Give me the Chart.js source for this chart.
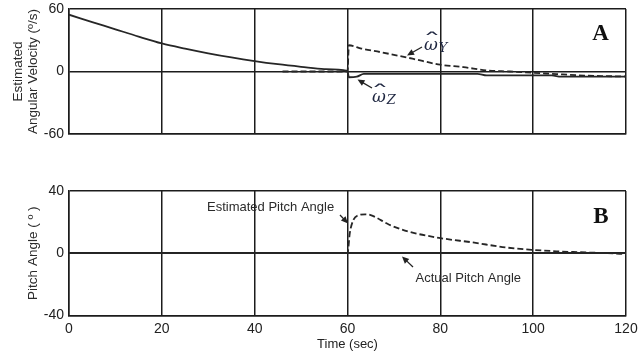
<!DOCTYPE html>
<html>
<head>
<meta charset="utf-8">
<script src="https://cdn.jsdelivr.net/npm/chart.js@4"></script>
<style>
  html, body { margin: 0; padding: 0; background: #fff; }
  #wrap { position: relative; width: 638px; height: 354px; }
  canvas { position: absolute; left: 0; }
  #cA { top: 0; }
  #cB { top: 150px; }
</style>
</head>
<body>
<div id="wrap">
  <canvas id="cA" width="638" height="150"></canvas>
  <canvas id="cB" width="638" height="204"></canvas>
</div>
<script>
// Panel A: estimated angular velocity (deg/s)
const omegaZTime = [0, 5, 10, 15, 20, 25, 30, 35, 40, 45, 50, 55, 60, 60.3, 62, 63.5, 88, 90, 104, 106, 120];
const omegaZVals = [54.5, 47.5, 40.5, 33.5, 27, 22, 17.5, 13.5, 10, 7, 4.5, 2.3, 0.6, -5.5, -5, -2.3, -2.2, -3.8, -3.8, -5, -5];
const omegaYTime = [46, 60, 60.3, 63, 67, 70, 74, 80, 85, 90, 95, 100, 105, 111, 115, 120];
const omegaYVals = [0, 0, 25.2, 22, 18.7, 16, 12.3, 6.5, 4.2, 1, 0, -1.2, -2.5, -3.9, -4.4, -4.8];

// Panel B: pitch angle (deg)
const pitchEstTime = [46, 60, 60.5, 61.3, 62.5, 63.8, 65, 69, 73, 80, 87, 94, 100, 105, 110, 116, 120];
const pitchEstVals = [0, 0, 13, 21.5, 24.5, 25, 24.5, 18.3, 14, 9.7, 6.9, 3.7, 2.1, 1.2, 0.6, 0, -0.6];
const pitchActTime = [0, 60, 120];
const pitchActVals = [0, 0, 0];

// Axis ticks
const timeTicks = [0, 20, 40, 60, 80, 100, 120];
const velTicks = [-60, 0, 60];
const pitchTicks = [-40, 0, 40];

const INK = '#1c1c1c';
const TEXT = '#222';
const SANS = "'Liberation Sans', Arial, sans-serif";
const SERIF = "'Liberation Serif', 'Times New Roman', serif";

const pts = (xs, ys) => xs.map((x, i) => ({ x, y: ys[i] }));

function lineSet(label, xs, ys, dashed) {
  return {
    label,
    data: pts(xs, ys),
    borderColor: '#262626',
    borderWidth: 1.8,
    borderDash: dashed ? [6, 3] : [],
    pointRadius: 0,
    fill: false,
    cubicInterpolationMode: 'monotone'
  };
}

function gridOpts() {
  return { color: INK, lineWidth: 1.5, drawTicks: false };
}

function arrow(ctx, x0, y0, x1, y1) {
  const a = Math.atan2(y1 - y0, x1 - x0);
  const h = 7, w = 3.2;
  ctx.save();
  ctx.strokeStyle = '#222';
  ctx.fillStyle = '#222';
  ctx.lineWidth = 1.3;
  ctx.beginPath();
  ctx.moveTo(x0, y0);
  ctx.lineTo(x1 - h * 0.8 * Math.cos(a), y1 - h * 0.8 * Math.sin(a));
  ctx.stroke();
  ctx.beginPath();
  ctx.moveTo(x1, y1);
  ctx.lineTo(x1 - h * Math.cos(a) + w * Math.sin(a), y1 - h * Math.sin(a) - w * Math.cos(a));
  ctx.lineTo(x1 - h * Math.cos(a) - w * Math.sin(a), y1 - h * Math.sin(a) + w * Math.cos(a));
  ctx.closePath();
  ctx.fill();
  ctx.restore();
}

// omega with a wide hat and a subscript
function omegaLabel(ctx, x, y, sub) {
  ctx.save();
  ctx.fillStyle = '#1e2640';
  ctx.textBaseline = 'alphabetic';
  ctx.textAlign = 'left';
  ctx.font = "italic 17px 'DejaVu Serif', serif";
  ctx.fillText('\u03C9', x, y);
  const w = ctx.measureText('\u03C9').width;
  ctx.save();
  ctx.translate(x + w / 2 + 1, y - 3);
  ctx.scale(2.3, 1.1);
  ctx.font = "16px 'DejaVu Serif', serif";
  ctx.textAlign = 'center';
  ctx.fillText('\u02C6', 0, 0);
  ctx.restore();
  ctx.font = "italic 13px 'DejaVu Serif', serif";
  ctx.fillText(sub, x + w + 1, y + 2);
  ctx.restore();
}

const notesA = {
  id: 'notesA',
  afterDraw(chart) {
    const ctx = chart.ctx;
    omegaLabel(ctx, 424, 50, 'Y');
    arrow(ctx, 422, 47, 407, 55.5);
    omegaLabel(ctx, 372, 102, 'Z');
    arrow(ctx, 372, 88, 357.5, 79.5);
    ctx.save();
    ctx.fillStyle = '#111';
    ctx.font = 'bold 23px ' + SERIF;
    ctx.textAlign = 'center';
    ctx.textBaseline = 'alphabetic';
    ctx.fillText('A', 600.5, 40);
    ctx.restore();
  }
};

const notesB = {
  id: 'notesB',
  afterDraw(chart) {
    const ctx = chart.ctx;
    const off = 150;
    ctx.save();
    ctx.fillStyle = '#2b2b2b';
    ctx.font = '13px ' + SANS;
    ctx.textAlign = 'left';
    ctx.textBaseline = 'alphabetic';
    ctx.fillText('Estimated Pitch Angle', 207, 210.5 - off);
    ctx.fillText('Actual Pitch Angle', 415.5, 281.5 - off);
    ctx.restore();
    arrow(ctx, 340, 215 - off, 348, 223.5 - off);
    arrow(ctx, 413, 267 - off, 402, 256.5 - off);
    ctx.save();
    ctx.fillStyle = '#111';
    ctx.font = 'bold 23px ' + SERIF;
    ctx.textAlign = 'center';
    ctx.textBaseline = 'alphabetic';
    ctx.fillText('B', 601, 223 - off);
    ctx.restore();
  }
};

function makeChart(id, datasets, yTicks, yTitle, yTitlePad, xShowTicks, layoutPad, xHeight, plugins) {
  return new Chart(document.getElementById(id), {
    type: 'line',
    data: { datasets },
    options: {
      responsive: false,
      animation: false,
      events: [],
      layout: { padding: layoutPad },
      plugins: { legend: { display: false }, tooltip: { enabled: false } },
      scales: {
        x: {
          type: 'linear',
          min: timeTicks[0],
          max: timeTicks[timeTicks.length - 1],
          afterBuildTicks: s => { s.ticks = timeTicks.map(v => ({ value: v })); },
          afterFit: s => { s.height = xHeight; s.paddingLeft = 0; s.paddingRight = 0; },
          grid: gridOpts(),
          border: { color: INK, width: 1.5 },
          ticks: {
            display: xShowTicks,
            padding: 5,
            color: TEXT,
            font: { family: SANS, size: 14 },
            maxRotation: 0
          },
          title: {
            display: xShowTicks,
            text: 'Time (sec)',
            color: TEXT,
            font: { family: SANS, size: 13 },
            padding: { top: 0, bottom: 1.5 }
          }
        },
        y: {
          type: 'linear',
          min: yTicks[0],
          max: yTicks[yTicks.length - 1],
          afterBuildTicks: s => { s.ticks = yTicks.map(v => ({ value: v })); },
          afterFit: s => { s.width = 69; s.paddingTop = 0; s.paddingBottom = 0; },
          grid: gridOpts(),
          border: { color: INK, width: 1.5 },
          ticks: {
            padding: 5,
            color: TEXT,
            font: { family: SANS, size: 14 }
          },
          title: {
            display: true,
            text: yTitle,
            color: '#2b2b2b',
            font: { family: SANS, size: 13.5, lineHeight: 1.12 },
            padding: { top: yTitlePad, bottom: 0 }
          }
        }
      }
    },
    plugins
  });
}

makeChart('cA', [
  lineSet('\u03C9Z', omegaZTime, omegaZVals, false),
  lineSet('\u03C9Y', omegaYTime, omegaYVals, true)
], velTicks, ['Estimated', 'Angular Velocity (\u00BA/s)'], 10.5, false,
  { top: 9, right: 12, left: 0, bottom: 0 }, 16, [notesA]);

makeChart('cB', [
  lineSet('Actual Pitch Angle', pitchActTime, pitchActVals, false),
  lineSet('Estimated Pitch Angle', pitchEstTime, pitchEstVals, true)
], pitchTicks, 'Pitch Angle ( \u00BA )', 25.5, true,
  { top: 41, right: 12, left: 0, bottom: 0 }, 38.7, [notesB]);
</script>
</body>
</html>
